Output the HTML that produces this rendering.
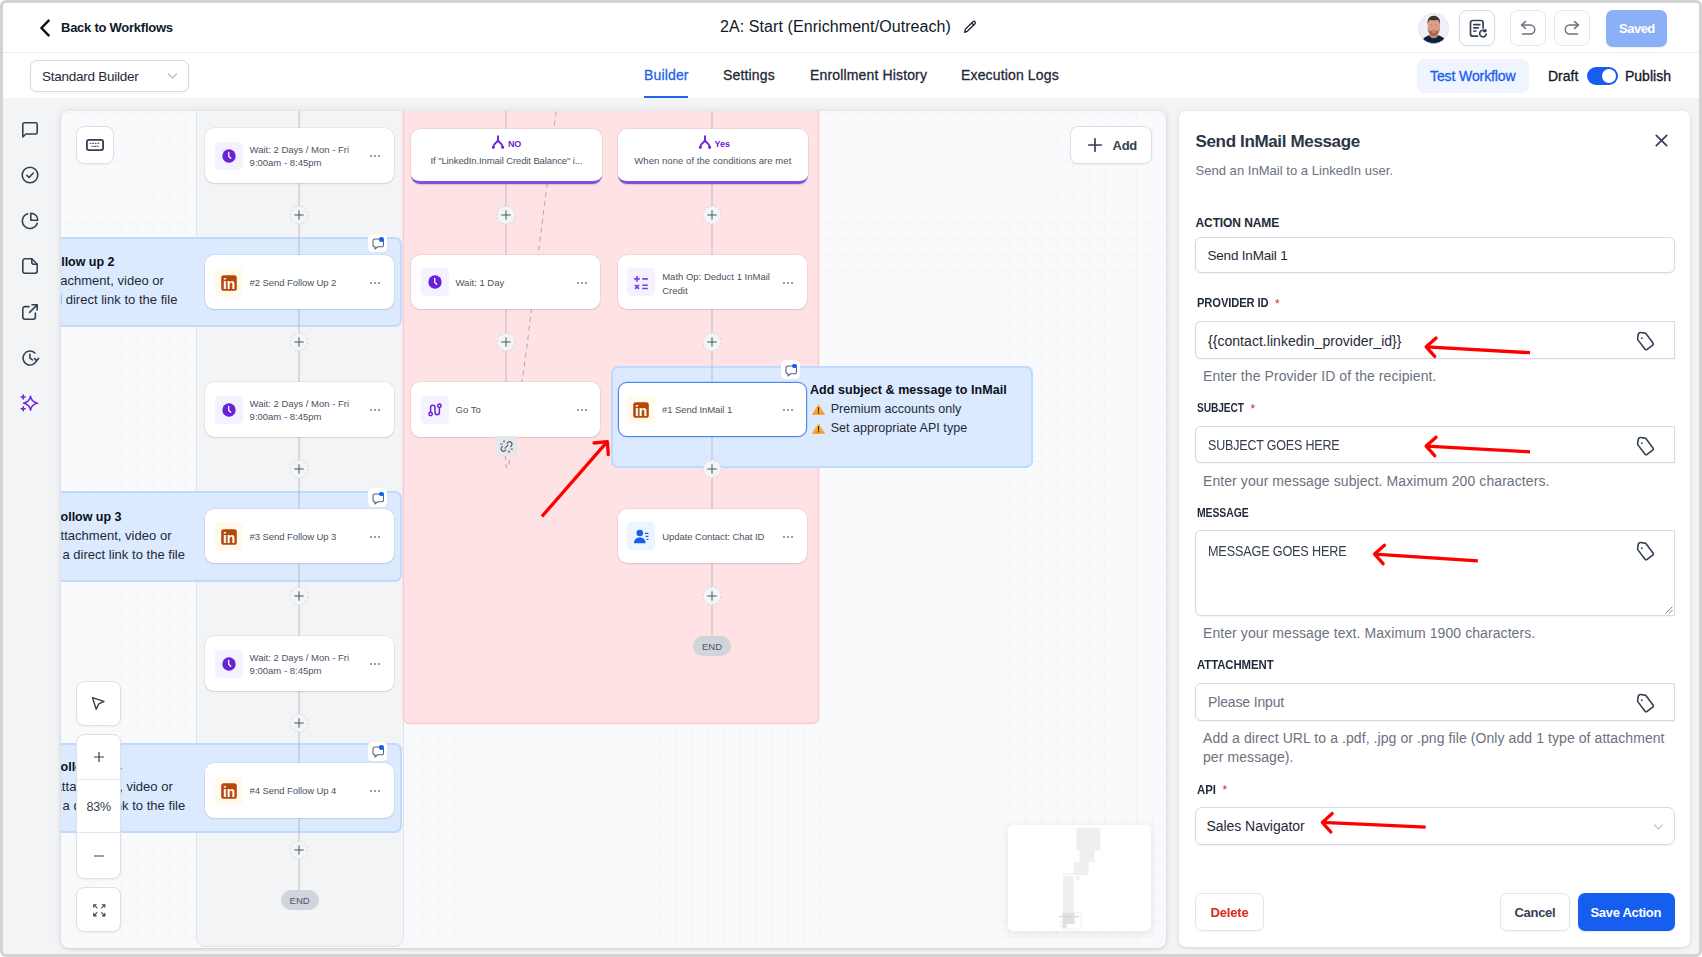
<!DOCTYPE html>
<html lang="en">
<head>
<meta charset="utf-8">
<title>2A: Start (Enrichment/Outreach)</title>
<style>
*{box-sizing:border-box;margin:0;padding:0}
html,body{width:1702px;height:957px;overflow:hidden;background:#fff;font-family:"Liberation Sans",Arial,sans-serif;color:#111827}
.abs,.frame *{position:absolute}
.frame{position:absolute;left:0;top:0;width:1702px;height:957px;border:3px solid #d3d3d3;border-radius:6px;background:#f3f4f6;overflow:hidden}
.in{position:absolute;left:-3px;top:-3px;width:1702px;height:957px}
.t{white-space:nowrap;line-height:1}
svg{overflow:visible}
/* header */
.h1{left:3px;top:3px;width:1696px;height:50px;background:#fff;border-bottom:1px solid #eceef1}
.h2{left:3px;top:53px;width:1696px;height:45px;background:#fff}
.ibtn{width:36px;height:36px;border:1px solid #e5e7eb;border-radius:8px;background:#fff}
.tab{font-size:14px;color:#1f2937;letter-spacing:.15px;top:68px;-webkit-text-stroke:.3px #1f2937}
/* canvas */
.canvas{left:61px;top:111px;width:1105px;height:836.500px;border-radius:8px;overflow:hidden;background-color:#f9fafb;
 background-image:linear-gradient(#f3f5f7 1px,transparent 1px),linear-gradient(90deg,#f3f5f7 1px,transparent 1px);background-size:15.860px 15.860px;background-position:12.400px 1px;
 box-shadow:0 1px 3px rgba(16,24,40,.12),0 0 9px rgba(16,24,40,.09)}
.cv{left:-61px;top:-111px;width:1702px;height:957px}
.node{width:189.200px;height:54.300px;background:#fff;border-radius:9px;box-shadow:0 0 0 .4px rgba(16,24,40,.10),0 1px 2px rgba(16,24,40,.10)}
.nic{left:11px;top:14px;width:27px;height:27px;border-radius:4px}
.ntx{left:44px;font-size:9px;color:#374151;letter-spacing:-.1px}
.dots{left:164px;top:25px;width:12px;height:3px}
.dots i{width:2px;height:2px;border-radius:50%;background:#6b7280;top:0}
.plus{width:18px;height:18px;border-radius:50%;border:1px dashed #d1d5db;background:#f9fafb}
.plus:before{content:"";position:absolute;left:4px;top:7.5px;width:8px;height:1px;background:#374151}
.plus:after{content:"";position:absolute;left:7.5px;top:4px;width:1px;height:8px;background:#374151}
.vline{width:1px;background:#9ca3af}
.note{background:#dbeafe;border:2px solid #c0dafd;border-radius:7px}
.end{width:38px;height:18px;border-radius:9px;background:#d1d5db;font-size:8.5px;color:#374151;text-align:center;line-height:18px}
.cbtn{background:#fff;border:1px solid #dde0e6;border-radius:8px;box-shadow:0 1px 2px rgba(16,24,40,.05)}
/* panel */
.panel{left:1179px;top:111px;width:511px;height:836px;background:#fff;border-radius:7px;box-shadow:0 1px 3px rgba(16,24,40,.10),0 0 10px rgba(16,24,40,.05)}
.pn{left:-1179px;top:-111px;width:1702px;height:957px}
.lbl{font-size:12px;font-weight:700;color:#1f2937;letter-spacing:-.1px}
.req{color:#dc2626;font-weight:400}
.inp{left:1195px;width:480px;border:1px solid #d5d9e0;border-radius:6px;background:#fff;box-shadow:0 1px 2px rgba(16,24,40,.05)}
.itx{font-size:14px;color:#1f2937}
.help{left:1203px;font-size:14px;color:#6b7280;letter-spacing:.08px}
</style>
</head>
<body>
<div class="frame"><div class="in">

<!-- ===== header row 1 ===== -->
<div class="h1"></div>
<svg style="left:38px;top:18px" width="14" height="20" viewBox="0 0 14 20"><path d="M10.6 2.6 L3.4 10 L10.6 17.4" fill="none" stroke="#0b0f19" stroke-width="2.5" stroke-linecap="round" stroke-linejoin="round"/></svg>
<div class="t" style="left:61px;top:21px;font-size:13px;font-weight:700;letter-spacing:-.25px;color:#111827">Back to Workflows</div>
<div class="t" style="left:720px;top:19px;font-size:16px;letter-spacing:.08px;color:#111827">2A: Start (Enrichment/Outreach)</div>
<svg style="left:962px;top:19px" width="16" height="16" viewBox="0 0 24 24" fill="none" stroke="#1f2937" stroke-width="2" stroke-linecap="round" stroke-linejoin="round"><path d="M4 20l1-4.5L16.5 4a2.1 2.1 0 0 1 3 3L8 18.5 4 20z"/><path d="M14.5 6l3 3"/></svg>
<!-- avatar -->
<svg style="left:1418px;top:13px" width="31" height="31" viewBox="0 0 31 31"><defs><clipPath id="av"><circle cx="15.600" cy="15.400" r="15.100"/></clipPath><filter id="avb" x="-10%" y="-10%" width="120%" height="120%"><feGaussianBlur stdDeviation=".55"/></filter></defs><g clip-path="url(#av)"><rect width="31" height="31" fill="#eef0f6"/><g filter="url(#avb)"><path d="M3.500 31.500C3.500 25.500 8 23 11.800 22.300L19.800 22.300C23.600 23 28 25.500 28 31.500z" fill="#10233a"/><path d="M11.400 18h8.600v4.800c-1 1.700-2.600 2.500-4.300 2.500s-3.300-.8-4.300-2.500z" fill="#d08c74"/><ellipse cx="15.800" cy="12.800" rx="6.300" ry="9.200" fill="#dd9c84"/><path d="M9.700 11.500C8.800 5.500 12 2.700 15.600 2.700s7.300 2.600 6.400 8.800c-.5-2.500-1.300-4-2.200-4.700-1.500.7-6.500.7-8 0-.9.700-1.700 2.200-2.100 4.700z" fill="#3b302b"/><path d="M9.600 14.500c.3 5.500 3 8.600 6.200 8.600s5.900-3.100 6.200-8.600c-.8 2.600-1.800 3.500-2.800 3.700-1.100-1-5.700-1-6.800 0-1-.2-2-1.100-2.800-3.700z" fill="#a4674d"/><ellipse cx="15.800" cy="19" rx="2" ry=".9" fill="#cf8e79"/><circle cx="13.400" cy="12" r=".8" fill="#8a8f96"/><circle cx="18.200" cy="12" r=".8" fill="#8a8f96"/></g></g><circle cx="15.600" cy="15.400" r="15" fill="none" stroke="#d6d4fb" stroke-width=".8" stroke-dasharray="2.500 1.200"/></svg>
<!-- doc button -->
<div class="ibtn" style="left:1459px;top:10px;border-color:#d7dbe3;box-shadow:0 1px 2px rgba(16,24,40,.06)"></div>
<svg style="left:1469px;top:19px" width="19" height="19" viewBox="0 0 19 19" fill="none" stroke="#344054" stroke-width="1.7" stroke-linecap="round" stroke-linejoin="round"><path d="M8.500 17.200H3.800A2.300 2.300 0 0 1 1.500 14.900V3.800A2.300 2.300 0 0 1 3.800 1.500h8A2.300 2.300 0 0 1 14.100 3.800V9"/><path d="M4.800 5.600h6M4.800 8.800h4.500M4.800 12h2"/><path d="M16.300 12.200a3.300 3.300 0 1 0 .9 2.900"/><path d="M16.800 10.400v2.200h-2.200" stroke-width="1.500"/></svg>
<!-- undo -->
<div class="ibtn" style="left:1510px;top:10px"></div>
<svg style="left:1519px;top:19px" width="18" height="18" viewBox="0 0 24 24" fill="none" stroke="#6b7280" stroke-width="2" stroke-linecap="round" stroke-linejoin="round"><path d="M8.500 12.500L3.500 8l5-4.500"/><path d="M3.500 8h11.500a6 6 0 0 1 0 12H4.500"/></svg>
<!-- redo -->
<div class="ibtn" style="left:1554px;top:10px"></div>
<svg style="left:1563px;top:19px" width="18" height="18" viewBox="0 0 24 24" fill="none" stroke="#6b7280" stroke-width="2" stroke-linecap="round" stroke-linejoin="round"><path d="M15.500 12.500L20.500 8l-5-4.500"/><path d="M20.500 8H9a6 6 0 0 0 0 12h10.500"/></svg>
<!-- saved -->
<div style="left:1606px;top:10px;width:61px;height:37px;border-radius:7px;background:#8cb0f8;box-shadow:0 1px 2px rgba(16,24,40,.08)"></div>
<div class="t" style="left:1619px;top:22px;font-size:13px;font-weight:700;color:#fff;letter-spacing:-.5px">Saved</div>

<!-- ===== header row 2 ===== -->
<div class="h2"></div>
<div style="left:30px;top:60px;width:159px;height:32px;border:1px solid #d5d9e0;border-radius:7px;background:#fff;box-shadow:0 1px 2px rgba(16,24,40,.06)"></div>
<div class="t" style="left:42px;top:70px;font-size:13.500px;letter-spacing:-.25px;color:#1f2937">Standard Builder</div>
<svg style="left:167px;top:72px" width="11" height="8" viewBox="0 0 11 8"><path d="M1.500 2l4 4 4-4" fill="none" stroke="#b6bcc6" stroke-width="1.200" stroke-linecap="round" stroke-linejoin="round"/></svg>
<div class="t tab" style="left:644px;color:#2563eb;-webkit-text-stroke-color:#2563eb">Builder</div>
<div style="left:644px;top:96px;width:44px;height:2px;background:#2563eb"></div>
<div class="t tab" style="left:723px">Settings</div>
<div class="t tab" style="left:810px">Enrollment History</div>
<div class="t tab" style="left:961px">Execution Logs</div>
<div style="left:1417px;top:59px;width:112px;height:34px;border-radius:7px;background:#eff4ff"></div>
<div class="t" style="left:1430px;top:69px;font-size:14px;color:#155eef;-webkit-text-stroke:.3px #155eef;letter-spacing:-.1px">Test Workflow</div>
<div class="t" style="left:1548px;top:69px;font-size:14px;color:#111827;-webkit-text-stroke:.3px #111827">Draft</div>
<div style="left:1587px;top:67px;width:31px;height:18px;border-radius:9px;background:#155eef"></div>
<div style="left:1602px;top:69px;width:14px;height:14px;border-radius:50%;background:#fff"></div>
<div class="t" style="left:1625px;top:69px;font-size:14px;color:#111827;-webkit-text-stroke:.3px #111827">Publish</div>

<!-- ===== left sidebar ===== -->
<svg style="left:21px;top:121px" width="18" height="18" viewBox="0 0 18 18" fill="none" stroke="#344054" stroke-width="1.600" stroke-linecap="round" stroke-linejoin="round"><path d="M1.800 15.800V3.400a1.600 1.600 0 0 1 1.600-1.600h11.200a1.600 1.600 0 0 1 1.600 1.600v8a1.600 1.600 0 0 1-1.600 1.600H5z"/></svg>
<svg style="left:21px;top:166px" width="18" height="18" viewBox="0 0 18 18" fill="none" stroke="#344054" stroke-width="1.600" stroke-linecap="round" stroke-linejoin="round"><circle cx="9" cy="9" r="7.800"/><path d="M5.800 9.300l2.200 2.200 4.300-4.500"/></svg>
<svg style="left:21px;top:212px" width="18" height="18" viewBox="0 0 18 18" fill="none" stroke="#344054" stroke-width="1.600" stroke-linecap="round" stroke-linejoin="round"><path d="M16.200 11.300A7.600 7.600 0 1 1 6.600 1.700"/><path d="M9.800 1.200a7 7 0 0 1 7 7h-7z"/></svg>
<svg style="left:21px;top:257px" width="18" height="18" viewBox="0 0 18 18" fill="none" stroke="#344054" stroke-width="1.600" stroke-linecap="round" stroke-linejoin="round"><path d="M10.800 1.800H4a2.200 2.200 0 0 0-2.200 2.200v10a2.200 2.200 0 0 0 2.200 2.200h10a2.200 2.200 0 0 0 2.200-2.200V7.200z"/><path d="M10.800 1.800v3.400a2 2 0 0 0 2 2h3.400"/></svg>
<svg style="left:21px;top:303px" width="18" height="18" viewBox="0 0 18 18" fill="none" stroke="#344054" stroke-width="1.600" stroke-linecap="round" stroke-linejoin="round"><path d="M8 3.600H4a2.200 2.200 0 0 0-2.200 2.200V14a2.200 2.200 0 0 0 2.200 2.200h8.200a2.200 2.200 0 0 0 2.200-2.200v-4"/><path d="M11 1.800h5.200V7M16.200 1.800L8.600 9.400"/></svg>
<svg style="left:21px;top:349px" width="19" height="18" viewBox="0 0 19 18" fill="none" stroke="#344054" stroke-width="1.600" stroke-linecap="round" stroke-linejoin="round"><path d="M15.800 10.800A7 7 0 1 1 13.900 4"/><path d="M8.900 5.200V9l2.600 1.800"/><path d="M13.600 9.600l2.200 2 1.900-2.300" /></svg>
<svg style="left:20px;top:394px" width="20" height="19" viewBox="0 0 20 19" fill="none" stroke="#6d28d9" stroke-width="1.500" stroke-linecap="round" stroke-linejoin="round"><path d="M10.500 2.200c.6 4.400 2.300 6.200 7 7-4.700.8-6.400 2.600-7 7-.6-4.400-2.300-6.200-7-7 4.700-.8 6.400-2.600 7-7z"/><path d="M3.200 1v4M1.200 3h4M3.200 12.800v4M1.200 14.800h4"/></svg>

<!-- ===== canvas ===== -->
<div class="canvas"><div class="cv">
<!--CANVAS-START-->
<div style="left:196px;top:90px;width:208px;height:857px;background:#f3f4f6;border:1px solid #e0e3e8;border-radius:9px"></div>
<svg style="left:0;top:0" width="1702" height="957"><rect x="403.400" y="90" width="415.100" height="633.300" rx="6" fill="#fee2e4" stroke="#fecbd3" stroke-width="1.700"/></svg>
<div class="note" style="left:20px;top:236.5px;width:382px;height:90px"></div>
<div class="note" style="left:20px;top:491px;width:382px;height:90.6px"></div>
<div class="note" style="left:20px;top:743.2px;width:382px;height:89.4px"></div>
<div class="note" style="left:611px;top:365.5px;width:421.5px;height:102.5px"></div>
<div class="t" style="right:1587.5px;top:255.6px;font-size:12.5px;font-weight:700;color:#0b0f19;letter-spacing:-.02px">Send Follow up 2</div>
<div class="t" style="right:1538.1px;top:273.9px;font-size:13px;color:#1f2937;letter-spacing:.02px">Add attachment, video or</div>
<div class="t" style="right:1524.6px;top:292.6px;font-size:13px;color:#1f2937;letter-spacing:.02px">add direct link to the file</div>
<div class="t" style="right:1580.5px;top:510.9px;font-size:12.5px;font-weight:700;color:#0b0f19;letter-spacing:-.02px">Send Follow up 3</div>
<div class="t" style="right:1530.5px;top:529.3px;font-size:13px;color:#1f2937;letter-spacing:.02px">Add attachment, video or</div>
<div class="t" style="right:1517.0px;top:548.0px;font-size:13px;color:#1f2937;letter-spacing:.02px">add a direct link to the file</div>
<div class="t" style="right:1580.5px;top:761.0px;font-size:12.5px;font-weight:700;color:#0b0f19;letter-spacing:-.02px">Send Follow up 4</div>
<div class="t" style="right:1529.2px;top:780.1px;font-size:13px;color:#1f2937;letter-spacing:.02px">Add attachment, video or</div>
<div class="t" style="right:1516.8px;top:799.1px;font-size:13px;color:#1f2937;letter-spacing:.02px">add a direct link to the file</div>
<div class="t" style="left:810.0px;top:383.7px;font-size:12.5px;font-weight:700;color:#0b0f19;letter-spacing:-.02px;letter-spacing:.05px">Add subject &amp; message to InMail</div>
<div class="t" style="left:830.7px;top:403.2px;font-size:12.5px;color:#1f2937;letter-spacing:-.02px;letter-spacing:.03px">Premium accounts only</div>
<div class="t" style="left:830.7px;top:422.2px;font-size:12.5px;color:#1f2937;letter-spacing:-.02px;letter-spacing:.04px">Set appropriate API type</div>
<svg style="left:812px;top:404.2px" width="13" height="11" viewBox="0 0 13 11"><defs><linearGradient id="wg812404" x1="0" y1="0" x2="0" y2="1"><stop offset="0" stop-color="#ffd968"/><stop offset="1" stop-color="#f5951a"/></linearGradient></defs><path d="M6.5 .6L12.5 10.4H.5z" fill="url(#wg812404)" stroke="#f6a22b" stroke-width=".8" stroke-linejoin="round"/><path d="M6.5 3.600v3.500" stroke="#3b2a1a" stroke-width="1.300" stroke-linecap="round"/><circle cx="6.500" cy="8.800" r=".75" fill="#3b2a1a"/></svg>
<svg style="left:812px;top:423.2px" width="13" height="11" viewBox="0 0 13 11"><defs><linearGradient id="wg812423" x1="0" y1="0" x2="0" y2="1"><stop offset="0" stop-color="#ffd968"/><stop offset="1" stop-color="#f5951a"/></linearGradient></defs><path d="M6.5 .6L12.5 10.4H.5z" fill="url(#wg812423)" stroke="#f6a22b" stroke-width=".8" stroke-linejoin="round"/><path d="M6.5 3.600v3.500" stroke="#3b2a1a" stroke-width="1.300" stroke-linecap="round"/><circle cx="6.500" cy="8.800" r=".75" fill="#3b2a1a"/></svg>
<div style="left:298px;top:100px;width:2px;height:791px;background:rgba(177,177,183,.40)"></div>
<div style="left:505px;top:100px;width:2px;height:337px;background:rgba(177,177,183,.38)"></div>
<div style="left:711px;top:100px;width:2px;height:537px;background:rgba(177,177,183,.38)"></div>
<svg style="left:0;top:0" width="1702" height="957"><path d="M505.400 437 L505.600 460 C505.800 470.500 507.500 470.500 509 463 C512 447 519 403 523.700 370 C527 346 529 330 530.800 314.500 L538.100 254.800 L547.200 183.800 L557.500 100" fill="none" stroke="#b3a9ae" stroke-width="1" stroke-dasharray="5 4"/></svg>
<div class="node" style="left:205.1px;top:128.3px;"></div>
<div style="left:214.7px;top:141.5px;width:28.200px;height:28.200px;border-radius:4.500px;background:#f5f2ff"></div>
<svg style="left:220.8px;top:147.6px" width="16" height="16" viewBox="0 0 16 16"><circle cx="8" cy="8" r="6.700" fill="#6a22d6"/><path d="M7.700 4.300V8.300l2 1.900" fill="none" stroke="#fff" stroke-width="1.300" stroke-linecap="round" stroke-linejoin="round"/></svg>
<div class="t" style="left:249.60000000000002px;top:145.3px;font-size:9.5px;color:#4b5261">Wait: 2 Days / Mon - Fri</div>
<div class="t" style="left:249.60000000000002px;top:157.6px;font-size:9.5px;color:#4b5261">9:00am - 8:45pm</div>
<div style="left:370.4px;top:154.79999999999998px;width:10px;height:2px"><i style="left:0;top:0;width:2px;height:2px;border-radius:50%;background:#757d8c"></i><i style="left:4px;top:0;width:2px;height:2px;border-radius:50%;background:#757d8c"></i><i style="left:8px;top:0;width:2px;height:2px;border-radius:50%;background:#757d8c"></i></div>
<div class="node" style="left:205.1px;top:255.2px;"></div>
<div style="left:214.7px;top:268.4px;width:28.200px;height:28.200px;border-radius:4.500px;background:#fffaeb"></div>
<svg style="left:220.8px;top:274.5px" width="16" height="16" viewBox="0 0 16 16"><rect x=".2" y=".2" width="15.600" height="15.600" rx="2.600" fill="#b54708"/><text x="8" y="13.900" text-anchor="middle" font-family="Liberation Sans,Arial,sans-serif" font-weight="700" font-size="13.800" fill="#fff" letter-spacing="-.2">in</text></svg>
<div class="t" style="left:249.60000000000002px;top:278.2px;font-size:9.5px;color:#4b5261;letter-spacing:-0.08px">#2 Send Follow Up 2</div>
<div style="left:370.4px;top:281.7px;width:10px;height:2px"><i style="left:0;top:0;width:2px;height:2px;border-radius:50%;background:#757d8c"></i><i style="left:4px;top:0;width:2px;height:2px;border-radius:50%;background:#757d8c"></i><i style="left:8px;top:0;width:2px;height:2px;border-radius:50%;background:#757d8c"></i></div>
<div class="node" style="left:205.1px;top:382.3px;"></div>
<div style="left:214.7px;top:395.5px;width:28.200px;height:28.200px;border-radius:4.500px;background:#f5f2ff"></div>
<svg style="left:220.8px;top:401.6px" width="16" height="16" viewBox="0 0 16 16"><circle cx="8" cy="8" r="6.700" fill="#6a22d6"/><path d="M7.700 4.300V8.300l2 1.900" fill="none" stroke="#fff" stroke-width="1.300" stroke-linecap="round" stroke-linejoin="round"/></svg>
<div class="t" style="left:249.60000000000002px;top:399.3px;font-size:9.5px;color:#4b5261">Wait: 2 Days / Mon - Fri</div>
<div class="t" style="left:249.60000000000002px;top:411.6px;font-size:9.5px;color:#4b5261">9:00am - 8:45pm</div>
<div style="left:370.4px;top:408.8px;width:10px;height:2px"><i style="left:0;top:0;width:2px;height:2px;border-radius:50%;background:#757d8c"></i><i style="left:4px;top:0;width:2px;height:2px;border-radius:50%;background:#757d8c"></i><i style="left:8px;top:0;width:2px;height:2px;border-radius:50%;background:#757d8c"></i></div>
<div class="node" style="left:205.1px;top:509.2px;"></div>
<div style="left:214.7px;top:522.4px;width:28.200px;height:28.200px;border-radius:4.500px;background:#fffaeb"></div>
<svg style="left:220.8px;top:528.5px" width="16" height="16" viewBox="0 0 16 16"><rect x=".2" y=".2" width="15.600" height="15.600" rx="2.600" fill="#b54708"/><text x="8" y="13.900" text-anchor="middle" font-family="Liberation Sans,Arial,sans-serif" font-weight="700" font-size="13.800" fill="#fff" letter-spacing="-.2">in</text></svg>
<div class="t" style="left:249.60000000000002px;top:532.2px;font-size:9.5px;color:#4b5261;letter-spacing:-0.08px">#3 Send Follow Up 3</div>
<div style="left:370.4px;top:535.7px;width:10px;height:2px"><i style="left:0;top:0;width:2px;height:2px;border-radius:50%;background:#757d8c"></i><i style="left:4px;top:0;width:2px;height:2px;border-radius:50%;background:#757d8c"></i><i style="left:8px;top:0;width:2px;height:2px;border-radius:50%;background:#757d8c"></i></div>
<div class="node" style="left:205.1px;top:636.3px;"></div>
<div style="left:214.7px;top:649.5px;width:28.200px;height:28.200px;border-radius:4.500px;background:#f5f2ff"></div>
<svg style="left:220.8px;top:655.6px" width="16" height="16" viewBox="0 0 16 16"><circle cx="8" cy="8" r="6.700" fill="#6a22d6"/><path d="M7.700 4.300V8.300l2 1.900" fill="none" stroke="#fff" stroke-width="1.300" stroke-linecap="round" stroke-linejoin="round"/></svg>
<div class="t" style="left:249.60000000000002px;top:653.4px;font-size:9.5px;color:#4b5261">Wait: 2 Days / Mon - Fri</div>
<div class="t" style="left:249.60000000000002px;top:665.7px;font-size:9.5px;color:#4b5261">9:00am - 8:45pm</div>
<div style="left:370.4px;top:662.8000000000001px;width:10px;height:2px"><i style="left:0;top:0;width:2px;height:2px;border-radius:50%;background:#757d8c"></i><i style="left:4px;top:0;width:2px;height:2px;border-radius:50%;background:#757d8c"></i><i style="left:8px;top:0;width:2px;height:2px;border-radius:50%;background:#757d8c"></i></div>
<div class="node" style="left:205.1px;top:763.3px;"></div>
<div style="left:214.7px;top:776.5px;width:28.200px;height:28.200px;border-radius:4.500px;background:#fffaeb"></div>
<svg style="left:220.8px;top:782.6px" width="16" height="16" viewBox="0 0 16 16"><rect x=".2" y=".2" width="15.600" height="15.600" rx="2.600" fill="#b54708"/><text x="8" y="13.900" text-anchor="middle" font-family="Liberation Sans,Arial,sans-serif" font-weight="700" font-size="13.800" fill="#fff" letter-spacing="-.2">in</text></svg>
<div class="t" style="left:249.60000000000002px;top:786.3px;font-size:9.5px;color:#4b5261;letter-spacing:-0.08px">#4 Send Follow Up 4</div>
<div style="left:370.4px;top:789.8000000000001px;width:10px;height:2px"><i style="left:0;top:0;width:2px;height:2px;border-radius:50%;background:#757d8c"></i><i style="left:4px;top:0;width:2px;height:2px;border-radius:50%;background:#757d8c"></i><i style="left:8px;top:0;width:2px;height:2px;border-radius:50%;background:#757d8c"></i></div>
<div class="node" style="left:411.4px;top:129.2px;width:190.200px;height:54.500px;border-bottom:3px solid #7d50ea;border-radius:9px"></div>
<svg style="left:490.9px;top:135.39999999999998px" width="14" height="14" viewBox="0 0 14 14" fill="none" stroke="#6a22d6" stroke-width="1.900" stroke-linecap="round" stroke-linejoin="round"><path d="M7 1.200v3.300M7 4.500C7 8 2.300 7.600 2.300 12.200M7 4.500C7 8 11.700 7.600 11.700 12.200"/><circle cx="2.300" cy="12.300" r=".9" fill="#6a22d6" stroke-width="1.200"/><circle cx="11.700" cy="12.300" r=".9" fill="#6a22d6" stroke-width="1.200"/></svg>
<div class="t" style="left:507.9px;top:139.6px;font-size:9px;font-weight:700;color:#6a22d6;letter-spacing:-.1px">NO</div>
<div class="t" style="left:411.2px;width:190.500px;text-align:center;top:156.39999999999998px;font-size:9.5px;color:#4b5261;letter-spacing:-0.11px">If "LinkedIn.Inmail Credit Balance" i...</div>
<div class="node" style="left:617.8px;top:129.2px;width:190.200px;height:54.500px;border-bottom:3px solid #7d50ea;border-radius:9px"></div>
<svg style="left:697.6px;top:135.39999999999998px" width="14" height="14" viewBox="0 0 14 14" fill="none" stroke="#6a22d6" stroke-width="1.900" stroke-linecap="round" stroke-linejoin="round"><path d="M7 1.200v3.300M7 4.500C7 8 2.300 7.600 2.300 12.200M7 4.500C7 8 11.700 7.600 11.700 12.200"/><circle cx="2.300" cy="12.300" r=".9" fill="#6a22d6" stroke-width="1.200"/><circle cx="11.700" cy="12.300" r=".9" fill="#6a22d6" stroke-width="1.200"/></svg>
<div class="t" style="left:714.6px;top:139.6px;font-size:9px;font-weight:700;color:#6a22d6;letter-spacing:-.1px">Yes</div>
<div class="t" style="left:617.6px;width:190.500px;text-align:center;top:156.39999999999998px;font-size:9.5px;color:#4b5261;letter-spacing:0.05px">When none of the conditions are met</div>
<div class="node" style="left:411.0px;top:255.0px;"></div>
<div style="left:420.6px;top:268.2px;width:28.200px;height:28.200px;border-radius:4.500px;background:#f5f2ff"></div>
<svg style="left:426.70000000000005px;top:274.3px" width="16" height="16" viewBox="0 0 16 16"><circle cx="8" cy="8" r="6.700" fill="#6a22d6"/><path d="M7.700 4.300V8.300l2 1.900" fill="none" stroke="#fff" stroke-width="1.300" stroke-linecap="round" stroke-linejoin="round"/></svg>
<div class="t" style="left:455.5px;top:278.0px;font-size:9.5px;color:#4b5261;letter-spacing:0px">Wait: 1 Day</div>
<div></div>
<div style="left:577.3px;top:281.5px;width:10px;height:2px"><i style="left:0;width:2px;height:2px;border-radius:50%;background:#757d8c"></i><i style="left:4px;width:2px;height:2px;border-radius:50%;background:#757d8c"></i><i style="left:8px;width:2px;height:2px;border-radius:50%;background:#757d8c"></i></div>
<div class="node" style="left:617.7px;top:255.0px;"></div>
<div style="left:627.3px;top:268.2px;width:28.200px;height:28.200px;border-radius:4.500px;background:#f5f2ff"></div>
<svg style="left:634.3px;top:275.7px" width="14" height="14" viewBox="0 0 14 14" fill="none" stroke="#7c3aed" stroke-width="1.600" stroke-linecap="butt"><path d="M.2 2.900h5.600M3 .1v5.600M8.200 2.900h5.600M1 8.900l4 4M5 8.900l-4 4M8.200 9.300h5.600M8.200 12.500h5.600"/></svg>
<div class="t" style="left:662.2px;top:272.3px;font-size:9.5px;color:#4b5261">Math Op: Deduct 1 InMail</div>
<div class="t" style="left:662.2px;top:285.6px;font-size:9.5px;color:#4b5261">Credit</div>
<div style="left:783.0px;top:281.5px;width:10px;height:2px"><i style="left:0;top:0;width:2px;height:2px;border-radius:50%;background:#757d8c"></i><i style="left:4px;top:0;width:2px;height:2px;border-radius:50%;background:#757d8c"></i><i style="left:8px;top:0;width:2px;height:2px;border-radius:50%;background:#757d8c"></i></div>
<div class="node" style="left:411.0px;top:382.3px;"></div>
<div style="left:420.6px;top:395.5px;width:28.200px;height:28.200px;border-radius:4.500px;background:#f5f2ff"></div>
<svg style="left:427.7px;top:402.6px" width="14" height="14" viewBox="0 0 14 14" fill="none" stroke="#6a22d6" stroke-width="1.500" stroke-linecap="round" stroke-linejoin="round"><circle cx="2.600" cy="11" r="1.700"/><circle cx="11.400" cy="2.800" r="1.700"/><path d="M2.600 9.300V4.500a2.200 2.200 0 0 1 4.400 0v5a2.200 2.200 0 0 0 4.400 0V4.500"/></svg>
<div class="t" style="left:455.5px;top:405.3px;font-size:9.5px;color:#4b5261;letter-spacing:0px">Go To</div>
<div style="left:577.3px;top:408.8px;width:10px;height:2px"><i style="left:0;width:2px;height:2px;border-radius:50%;background:#757d8c"></i><i style="left:4px;width:2px;height:2px;border-radius:50%;background:#757d8c"></i><i style="left:8px;width:2px;height:2px;border-radius:50%;background:#757d8c"></i></div>
<div style="left:495px;top:436px;width:21.500px;height:20px;border-radius:0 0 4px 4px;background:#e5e7eb"></div>
<svg style="left:498.500px;top:438.500px" width="15" height="15" viewBox="0 0 24 24" fill="none" stroke="#555e6c" stroke-width="1.900" stroke-linecap="round" stroke-linejoin="round"><path d="M9.500 14.500l5-5"/><path d="M13 6.500l1.300-1.300a4 4 0 0 1 5.600 5.600L18.600 12"/><path d="M11 17.500l-1.300 1.300a4 4 0 0 1-5.600-5.600L5.400 12"/><path d="M8 2.500v2.500M2.500 8h2.500M16 19v2.500M19 16h2.500" stroke-width="1.800"/></svg>
<div class="node" style="left:617.6px;top:382.3px;border:1.500px solid #4b83f0;box-shadow:0 0 0 .5px rgba(75,131,240,.35)"></div>
<div style="left:627.2px;top:395.5px;width:28.200px;height:28.200px;border-radius:4.500px;background:#fffaeb"></div>
<svg style="left:633.3px;top:401.6px" width="16" height="16" viewBox="0 0 16 16"><rect x=".2" y=".2" width="15.600" height="15.600" rx="2.600" fill="#b54708"/><text x="8" y="13.900" text-anchor="middle" font-family="Liberation Sans,Arial,sans-serif" font-weight="700" font-size="13.800" fill="#fff" letter-spacing="-.2">in</text></svg>
<div class="t" style="left:662.1px;top:405.3px;font-size:9.5px;color:#4b5261;letter-spacing:-0.08px">#1 Send InMail 1</div>
<div style="left:782.9px;top:408.8px;width:10px;height:2px"><i style="left:0;top:0;width:2px;height:2px;border-radius:50%;background:#757d8c"></i><i style="left:4px;top:0;width:2px;height:2px;border-radius:50%;background:#757d8c"></i><i style="left:8px;top:0;width:2px;height:2px;border-radius:50%;background:#757d8c"></i></div>
<div class="node" style="left:617.7px;top:509.0px;"></div>
<div style="left:627.3px;top:522.2px;width:28.200px;height:28.200px;border-radius:4.500px;background:#eef4ff"></div>
<svg style="left:633.9px;top:528.8px" width="15" height="15" viewBox="0 0 15 15"><circle cx="5.800" cy="4" r="3.300" fill="#155eef"/><path d="M0 14.300c0-4 2.600-5.800 5.800-5.800s5.800 1.800 5.800 5.800z" fill="#155eef"/><path d="M10.800 4.300h3.600M11.600 7.300h2.800M12.600 10.300h1.800" stroke="#155eef" stroke-width="1.300" fill="none"/></svg>
<div class="t" style="left:662.2px;top:532.0px;font-size:9.5px;color:#4b5261;letter-spacing:-0.06px">Update Contact: Chat ID</div>
<div style="left:783.0px;top:535.5px;width:10px;height:2px"><i style="left:0;top:0;width:2px;height:2px;border-radius:50%;background:#757d8c"></i><i style="left:4px;top:0;width:2px;height:2px;border-radius:50%;background:#757d8c"></i><i style="left:8px;top:0;width:2px;height:2px;border-radius:50%;background:#757d8c"></i></div>
<svg style="left:289.4px;top:204.8px" width="20" height="20" viewBox="0 0 20 20"><circle cx="10" cy="10" r="9" fill="#f3f4f6" stroke="#cfd3da" stroke-width=".9" stroke-dasharray="2.200 1.800"/><path d="M5.300 10h9.400M10 5.300v9.400" stroke="#4b5563" stroke-width="1"/></svg>
<svg style="left:289.4px;top:331.8px" width="20" height="20" viewBox="0 0 20 20"><circle cx="10" cy="10" r="9" fill="#f3f4f6" stroke="#cfd3da" stroke-width=".9" stroke-dasharray="2.200 1.800"/><path d="M5.300 10h9.400M10 5.300v9.400" stroke="#4b5563" stroke-width="1"/></svg>
<svg style="left:289.4px;top:458.8px" width="20" height="20" viewBox="0 0 20 20"><circle cx="10" cy="10" r="9" fill="#f3f4f6" stroke="#cfd3da" stroke-width=".9" stroke-dasharray="2.200 1.800"/><path d="M5.300 10h9.400M10 5.300v9.400" stroke="#4b5563" stroke-width="1"/></svg>
<svg style="left:289.4px;top:585.8px" width="20" height="20" viewBox="0 0 20 20"><circle cx="10" cy="10" r="9" fill="#f3f4f6" stroke="#cfd3da" stroke-width=".9" stroke-dasharray="2.200 1.800"/><path d="M5.300 10h9.400M10 5.300v9.400" stroke="#4b5563" stroke-width="1"/></svg>
<svg style="left:289.4px;top:712.8px" width="20" height="20" viewBox="0 0 20 20"><circle cx="10" cy="10" r="9" fill="#f3f4f6" stroke="#cfd3da" stroke-width=".9" stroke-dasharray="2.200 1.800"/><path d="M5.300 10h9.400M10 5.300v9.400" stroke="#4b5563" stroke-width="1"/></svg>
<svg style="left:289.4px;top:839.8px" width="20" height="20" viewBox="0 0 20 20"><circle cx="10" cy="10" r="9" fill="#f3f4f6" stroke="#cfd3da" stroke-width=".9" stroke-dasharray="2.200 1.800"/><path d="M5.300 10h9.400M10 5.300v9.400" stroke="#4b5563" stroke-width="1"/></svg>
<svg style="left:495.9px;top:205.3px" width="20" height="20" viewBox="0 0 20 20"><circle cx="10" cy="10" r="9" fill="#f3f4f6" stroke="#cfd3da" stroke-width=".9" stroke-dasharray="2.200 1.800"/><path d="M5.300 10h9.400M10 5.300v9.400" stroke="#4b5563" stroke-width="1"/></svg>
<svg style="left:495.9px;top:331.7px" width="20" height="20" viewBox="0 0 20 20"><circle cx="10" cy="10" r="9" fill="#f3f4f6" stroke="#cfd3da" stroke-width=".9" stroke-dasharray="2.200 1.800"/><path d="M5.300 10h9.400M10 5.300v9.400" stroke="#4b5563" stroke-width="1"/></svg>
<svg style="left:701.9px;top:205.3px" width="20" height="20" viewBox="0 0 20 20"><circle cx="10" cy="10" r="9" fill="#f3f4f6" stroke="#cfd3da" stroke-width=".9" stroke-dasharray="2.200 1.800"/><path d="M5.300 10h9.400M10 5.300v9.400" stroke="#4b5563" stroke-width="1"/></svg>
<svg style="left:701.9px;top:331.7px" width="20" height="20" viewBox="0 0 20 20"><circle cx="10" cy="10" r="9" fill="#f3f4f6" stroke="#cfd3da" stroke-width=".9" stroke-dasharray="2.200 1.800"/><path d="M5.300 10h9.400M10 5.300v9.400" stroke="#4b5563" stroke-width="1"/></svg>
<svg style="left:701.9px;top:458.6px" width="20" height="20" viewBox="0 0 20 20"><circle cx="10" cy="10" r="9" fill="#f3f4f6" stroke="#cfd3da" stroke-width=".9" stroke-dasharray="2.200 1.800"/><path d="M5.300 10h9.400M10 5.300v9.400" stroke="#4b5563" stroke-width="1"/></svg>
<svg style="left:701.9px;top:586px" width="20" height="20" viewBox="0 0 20 20"><circle cx="10" cy="10" r="9" fill="#f3f4f6" stroke="#cfd3da" stroke-width=".9" stroke-dasharray="2.200 1.800"/><path d="M5.300 10h9.400M10 5.300v9.400" stroke="#4b5563" stroke-width="1"/></svg>
<div class="end" style="left:280.6px;top:889.8px;height:20px;line-height:21.500px;border-radius:10px;font-size:9.500px;color:#4b5563;letter-spacing:0">END</div>
<div class="end" style="left:693px;top:636.2px;height:20px;line-height:21.500px;border-radius:10px;font-size:9.500px;color:#4b5563;letter-spacing:0">END</div>
<div style="left:368.2px;top:233.8px;width:19px;height:18.700px;border-radius:4px;background:#fff;box-shadow:0 0 1px rgba(16,24,40,.15)"></div>
<svg style="left:371.5px;top:238.0px" width="13" height="12" viewBox="0 0 13 12" fill="none" stroke="#5b6472" stroke-width="1.100" stroke-linejoin="round" stroke-linecap="round"><path d="M2.800 1h6.900a1.800 1.800 0 0 1 1.800 1.800v4.200a1.800 1.800 0 0 1-1.800 1.800H5.800L3 11V8.800h-.2A1.800 1.800 0 0 1 1 7V2.800A1.800 1.800 0 0 1 2.800 1z"/></svg>
<div style="left:379.4px;top:237.3px;width:4.600px;height:4.600px;border-radius:50%;background:#155eef"></div>
<div style="left:368.2px;top:488.4px;width:19px;height:18.700px;border-radius:4px;background:#fff;box-shadow:0 0 1px rgba(16,24,40,.15)"></div>
<svg style="left:371.5px;top:492.59999999999997px" width="13" height="12" viewBox="0 0 13 12" fill="none" stroke="#5b6472" stroke-width="1.100" stroke-linejoin="round" stroke-linecap="round"><path d="M2.800 1h6.900a1.800 1.800 0 0 1 1.800 1.800v4.200a1.800 1.800 0 0 1-1.800 1.800H5.800L3 11V8.800h-.2A1.800 1.800 0 0 1 1 7V2.800A1.800 1.800 0 0 1 2.800 1z"/></svg>
<div style="left:379.4px;top:491.9px;width:4.600px;height:4.600px;border-radius:50%;background:#155eef"></div>
<div style="left:368.2px;top:741.9px;width:19px;height:18.700px;border-radius:4px;background:#fff;box-shadow:0 0 1px rgba(16,24,40,.15)"></div>
<svg style="left:371.5px;top:746.1px" width="13" height="12" viewBox="0 0 13 12" fill="none" stroke="#5b6472" stroke-width="1.100" stroke-linejoin="round" stroke-linecap="round"><path d="M2.800 1h6.900a1.800 1.800 0 0 1 1.800 1.800v4.200a1.800 1.800 0 0 1-1.800 1.800H5.800L3 11V8.800h-.2A1.800 1.800 0 0 1 1 7V2.800A1.800 1.800 0 0 1 2.800 1z"/></svg>
<div style="left:379.4px;top:745.4px;width:4.600px;height:4.600px;border-radius:50%;background:#155eef"></div>
<div style="left:781.2px;top:360.3px;width:19px;height:18.700px;border-radius:4px;background:#fff;box-shadow:0 0 1px rgba(16,24,40,.15)"></div>
<svg style="left:784.5px;top:364.5px" width="13" height="12" viewBox="0 0 13 12" fill="none" stroke="#5b6472" stroke-width="1.100" stroke-linejoin="round" stroke-linecap="round"><path d="M2.800 1h6.900a1.800 1.800 0 0 1 1.800 1.800v4.200a1.800 1.800 0 0 1-1.800 1.800H5.800L3 11V8.800h-.2A1.800 1.800 0 0 1 1 7V2.800A1.800 1.800 0 0 1 2.800 1z"/></svg>
<div style="left:792.4000000000001px;top:363.8px;width:4.600px;height:4.600px;border-radius:50%;background:#155eef"></div>
<svg style="left:0;top:0" width="1702" height="957"><g fill="none" stroke="#ff0000" stroke-width="3.300" stroke-linejoin="round"><path d="M541.900 516.500L607.300 441.600" stroke-linecap="butt"/><path d="M594 443L607.300 441.600L608.300 454.600" stroke-linecap="round"/></g></svg>
<div class="cbtn" style="left:76px;top:126px;width:38px;height:38px"></div>
<svg style="left:86px;top:139px" width="18" height="12" viewBox="0 0 18 12" fill="none" stroke="#344054"><rect x=".9" y=".9" width="16.200" height="10.200" rx="2" stroke-width="1.800"/><path d="M4 4.300h.9M6.600 4.300h.9M9.200 4.300h.9M11.800 4.300h.9M6 7.300h.9M8.400 7.300h1.200M11 7.300h1.200" stroke-width="1.100" stroke-linecap="round"/></svg>
<div class="cbtn" style="left:1070px;top:126px;width:81.600px;height:38px"></div>
<svg style="left:1088px;top:138px" width="14" height="14" viewBox="0 0 14 14"><path d="M.8 7h12.400M7 .8v12.400" stroke="#344054" stroke-width="1.700" stroke-linecap="round"/></svg>
<div class="t" style="left:1112.600px;top:139.200px;font-size:13px;font-weight:700;color:#344054;letter-spacing:-.35px">Add</div>
<div class="cbtn" style="left:76px;top:681px;width:45.400px;height:45.400px"></div>
<svg style="left:91px;top:696.300px" width="15" height="15" viewBox="0 0 15 15"><path d="M1.500 1.700L13 5.400L7.800 7.900L5.200 13.200z" fill="none" stroke="#344054" stroke-width="1.400" stroke-linejoin="round"/></svg>
<div class="cbtn" style="left:76px;top:734.200px;width:45.400px;height:144.800px"></div>
<div style="left:77px;top:779px;width:43.500px;height:1px;background:#e5e7eb"></div>
<div style="left:77px;top:832px;width:43.500px;height:1px;background:#e5e7eb"></div>
<svg style="left:93.500px;top:752px" width="10" height="10" viewBox="0 0 10 10"><path d="M0 5h10M5 0v10" stroke="#344054" stroke-width="1.200"/></svg>
<div class="t" style="left:76.500px;width:44.500px;text-align:center;top:801px;font-size:12.500px;color:#344054;letter-spacing:-.1px">83%</div>
<svg style="left:93.500px;top:851px" width="10" height="10" viewBox="0 0 10 10"><path d="M0 5h10" stroke="#344054" stroke-width="1.200"/></svg>
<div class="cbtn" style="left:76px;top:887.200px;width:45.400px;height:45px"></div>
<svg style="left:92.500px;top:903.600px" width="12.600" height="12.600" viewBox="0 0 14 14" fill="none" stroke="#344054" stroke-width="1.200" stroke-linecap="round" stroke-linejoin="round"><path d="M.8 3.600V.8h2.800M.8.800l3.600 3.600M10.400.8h2.800v2.800M13.200.8L9.600 4.400M.8 10.400v2.800h2.800M.8 13.200l3.600-3.600M13.200 10.400v2.800h-2.800M13.200 13.200L9.600 9.600"/></svg>
<div style="left:1008.400px;top:824.700px;width:142.600px;height:106.600px;border-radius:5px;background:#fff;box-shadow:0 2px 8px rgba(16,24,40,.10)"></div>
<svg style="left:1008.400px;top:824.700px" width="143" height="107" viewBox="0 0 143 107"><g fill="#efeff0"><rect x="68.500" y="3" width="24" height="22.500"/><rect x="71.500" y="25.500" width="15" height="11.500"/><rect x="65.500" y="37" width="15" height="13"/><rect x="55" y="48.500" width="11" height="1.500"/><rect x="55" y="51" width="10.500" height="37"/><rect x="67.500" y="51" width="4" height="4"/></g><rect x="55" y="88" width="11.500" height="11" fill="#e0e0e1"/><rect x="55" y="99" width="3.500" height="4.500" fill="#e0e0e1"/><rect x="51" y="91" width="20" height="1.300" fill="#d8d8da"/><rect x="51" y="96" width="5" height="1" fill="#e3e3e5"/><rect x="52" y="100.500" width="4" height="1" fill="#e3e3e5"/><rect x="54.500" y="87.500" width="18.500" height="16.500" fill="none" stroke="#ececee" stroke-width=".7"/></svg>
<!--CANVAS-END-->
</div></div>

<!-- ===== right panel ===== -->
<div class="panel"><div class="pn">
<!--PANEL-START-->
<div class="t" style="left:1195.500px;top:132.600px;font-size:17px;font-weight:700;color:#2b3547;letter-spacing:-.35px">Send InMail Message</div>
<svg style="left:1655px;top:134px" width="13" height="13" viewBox="0 0 13 13"><path d="M1.300 1.300l10.400 10.400M11.700 1.300L1.300 11.700" stroke="#344054" stroke-width="1.700" stroke-linecap="round"/></svg>
<div class="t" style="left:1195.500px;top:164px;font-size:13px;color:#6b7280;letter-spacing:.03px">Send an InMail to a LinkedIn user.</div>
<div class="t lbl" style="left:1195.5px;top:216.5px;transform:scaleX(1);transform-origin:0 50%">ACTION NAME</div>
<div class="inp" style="top:237.300px;height:35.500px"></div>
<div class="t itx" style="left:1207.500px;top:248.500px;font-size:13.500px;letter-spacing:-.2px">Send InMail 1</div>
<div class="t lbl" style="left:1197px;top:297px;transform:scaleX(0.93);transform-origin:0 50%">PROVIDER ID</div>
<div class="t req" style="left:1275.0px;top:297.5px;font-size:12px">*</div>
<div class="inp" style="top:321.200px;height:37.400px;border-radius:6px 0 0 6px"></div>
<div class="t itx" style="left:1208px;top:334px;letter-spacing:.04px">{{contact.linkedin_provider_id}}</div>
<svg style="left:1635.500px;top:332.3px" width="19" height="19" viewBox="0 0 19 19" fill="none" stroke="#344054" stroke-width="1.600" stroke-linejoin="round" stroke-linecap="round"><path d="M1.300 3.600v4.200a1.600 1.600 0 0 0 .5 1.150l8.100 8.100a1.600 1.600 0 0 0 2.300 0l4.900-4.900a1.600 1.600 0 0 0 0-2.300l-8.100-8.100A1.600 1.600 0 0 0 7.800 1.300H3.600A2.300 2.300 0 0 0 1.300 3.600z" transform="rotate(8 9.500 9.500)"/><circle cx="5.800" cy="6.200" r=".9" fill="#344054" stroke="none"/></svg>
<div class="t help" style="top:368.600px">Enter the Provider ID of the recipient.</div>
<svg style="left:0;top:0" width="1702" height="957"><g fill="none" stroke="#ff0000" stroke-width="3.300" stroke-linejoin="round"><path d="M1530 352.7L1426.2 346.8" stroke-linecap="butt"/><path d="M1436.1 338.0L1426.2 346.8L1434.7 356.4" stroke-linecap="round"/></g></svg>
<div class="t lbl" style="left:1197px;top:402px;transform:scaleX(0.85);transform-origin:0 50%">SUBJECT</div>
<div class="t req" style="left:1250.5px;top:402.5px;font-size:12px">*</div>
<div class="inp" style="top:426.400px;height:37px;border-radius:6px 0 0 6px"></div>
<div class="t itx" style="left:1208px;top:438px;font-size:14px;color:#333e4f;letter-spacing:-.2px;transform:scaleX(.893);transform-origin:0 50%">SUBJECT GOES HERE</div>
<svg style="left:1635.500px;top:437.2px" width="19" height="19" viewBox="0 0 19 19" fill="none" stroke="#344054" stroke-width="1.600" stroke-linejoin="round" stroke-linecap="round"><path d="M1.300 3.600v4.200a1.600 1.600 0 0 0 .5 1.150l8.100 8.100a1.600 1.600 0 0 0 2.300 0l4.900-4.900a1.600 1.600 0 0 0 0-2.300l-8.100-8.100A1.600 1.600 0 0 0 7.800 1.300H3.600A2.300 2.300 0 0 0 1.300 3.600z" transform="rotate(8 9.500 9.500)"/><circle cx="5.800" cy="6.200" r=".9" fill="#344054" stroke="none"/></svg>
<div class="t help" style="top:473.600px">Enter your message subject. Maximum 200 characters.</div>
<svg style="left:0;top:0" width="1702" height="957"><g fill="none" stroke="#ff0000" stroke-width="3.300" stroke-linejoin="round"><path d="M1530 451.8L1426.2 446.1" stroke-linecap="butt"/><path d="M1436.1 437.3L1426.2 446.1L1434.7 455.7" stroke-linecap="round"/></g></svg>
<div class="t lbl" style="left:1197px;top:507px;transform:scaleX(0.87);transform-origin:0 50%">MESSAGE</div>
<div class="inp" style="top:530.300px;height:85.800px;border-radius:6px 0 0 6px"></div>
<div class="t itx" style="left:1208px;top:544px;font-size:14px;color:#333e4f;letter-spacing:-.2px;transform:scaleX(.905);transform-origin:0 50%">MESSAGE GOES HERE</div>
<svg style="left:1635.500px;top:542px" width="19" height="19" viewBox="0 0 19 19" fill="none" stroke="#344054" stroke-width="1.600" stroke-linejoin="round" stroke-linecap="round"><path d="M1.300 3.600v4.200a1.600 1.600 0 0 0 .5 1.150l8.100 8.100a1.600 1.600 0 0 0 2.300 0l4.900-4.900a1.600 1.600 0 0 0 0-2.300l-8.100-8.100A1.600 1.600 0 0 0 7.800 1.300H3.600A2.300 2.300 0 0 0 1.300 3.600z" transform="rotate(8 9.500 9.500)"/><circle cx="5.800" cy="6.200" r=".9" fill="#344054" stroke="none"/></svg>
<svg style="left:1665px;top:606px" width="8" height="8" viewBox="0 0 8 8"><path d="M7.500 .5L.5 7.500M7.500 4L4 7.500" stroke="#6b7280" stroke-width=".9"/></svg>
<div class="t help" style="top:626px">Enter your message text. Maximum 1900 characters.</div>
<svg style="left:0;top:0" width="1702" height="957"><g fill="none" stroke="#ff0000" stroke-width="3.300" stroke-linejoin="round"><path d="M1477.8 560.8L1374.6 554.1" stroke-linecap="butt"/><path d="M1384.5 545.3L1374.6 554.1L1383.1 563.7" stroke-linecap="round"/></g></svg>
<div class="t lbl" style="left:1197px;top:659px;transform:scaleX(0.95);transform-origin:0 50%">ATTACHMENT</div>
<div class="inp" style="top:683px;height:38.200px;border-radius:6px 0 0 6px"></div>
<div class="t" style="left:1208px;top:695px;font-size:14px;color:#6b7280;letter-spacing:-.15px">Please Input</div>
<svg style="left:1635.500px;top:693.5px" width="19" height="19" viewBox="0 0 19 19" fill="none" stroke="#344054" stroke-width="1.600" stroke-linejoin="round" stroke-linecap="round"><path d="M1.300 3.600v4.200a1.600 1.600 0 0 0 .5 1.150l8.100 8.100a1.600 1.600 0 0 0 2.300 0l4.900-4.900a1.600 1.600 0 0 0 0-2.300l-8.100-8.100A1.600 1.600 0 0 0 7.800 1.300H3.600A2.300 2.300 0 0 0 1.300 3.600z" transform="rotate(8 9.500 9.500)"/><circle cx="5.800" cy="6.200" r=".9" fill="#344054" stroke="none"/></svg>
<div class="t help" style="top:731px">Add a direct URL to a .pdf, .jpg or .png file (Only add 1 type of attachment</div>
<div class="t help" style="top:750px">per message).</div>
<div class="t lbl" style="left:1197px;top:783.5px;transform:scaleX(0.95);transform-origin:0 50%">API</div>
<div class="t req" style="left:1222.5px;top:784.0px;font-size:12px">*</div>
<div class="inp" style="top:806.600px;height:38px;border-radius:7px"></div>
<div class="t itx" style="left:1206.500px;top:818.500px;font-size:14px;letter-spacing:-.05px">Sales Navigator</div>
<svg style="left:1653px;top:822.500px" width="11" height="8" viewBox="0 0 11 8"><path d="M1.500 2l4 4 4-4" fill="none" stroke="#c3c8d0" stroke-width="1.200" stroke-linecap="round" stroke-linejoin="round"/></svg>
<svg style="left:0;top:0" width="1702" height="957"><g fill="none" stroke="#ff0000" stroke-width="3.300" stroke-linejoin="round"><path d="M1425.7 827.1L1322.3 822.4" stroke-linecap="butt"/><path d="M1332.2 813.6L1322.3 822.4L1330.8 832.0" stroke-linecap="round"/></g></svg>
<div class="cbtn" style="left:1195px;top:893.200px;width:69px;height:38px;border-radius:7px;border-color:#e2e5ea"></div>
<div class="t" style="left:1210.500px;top:905.500px;font-size:13px;font-weight:700;color:#d92d20;letter-spacing:-.15px">Delete</div>
<div class="cbtn" style="left:1499.500px;top:893.200px;width:70px;height:38px;border-radius:7px;border-color:#e2e5ea"></div>
<div class="t" style="left:1514.500px;top:905.500px;font-size:13px;font-weight:700;color:#344054;letter-spacing:-.3px">Cancel</div>
<div style="left:1577.800px;top:893.200px;width:97px;height:38px;border-radius:7px;background:#155eef;box-shadow:0 1px 2px rgba(16,24,40,.1)"></div>
<div class="t" style="left:1590.500px;top:905.500px;font-size:13px;font-weight:700;color:#fff;letter-spacing:-.3px">Save Action</div>
<!--PANEL-END-->
</div></div>

</div></div>
</body>
</html>
